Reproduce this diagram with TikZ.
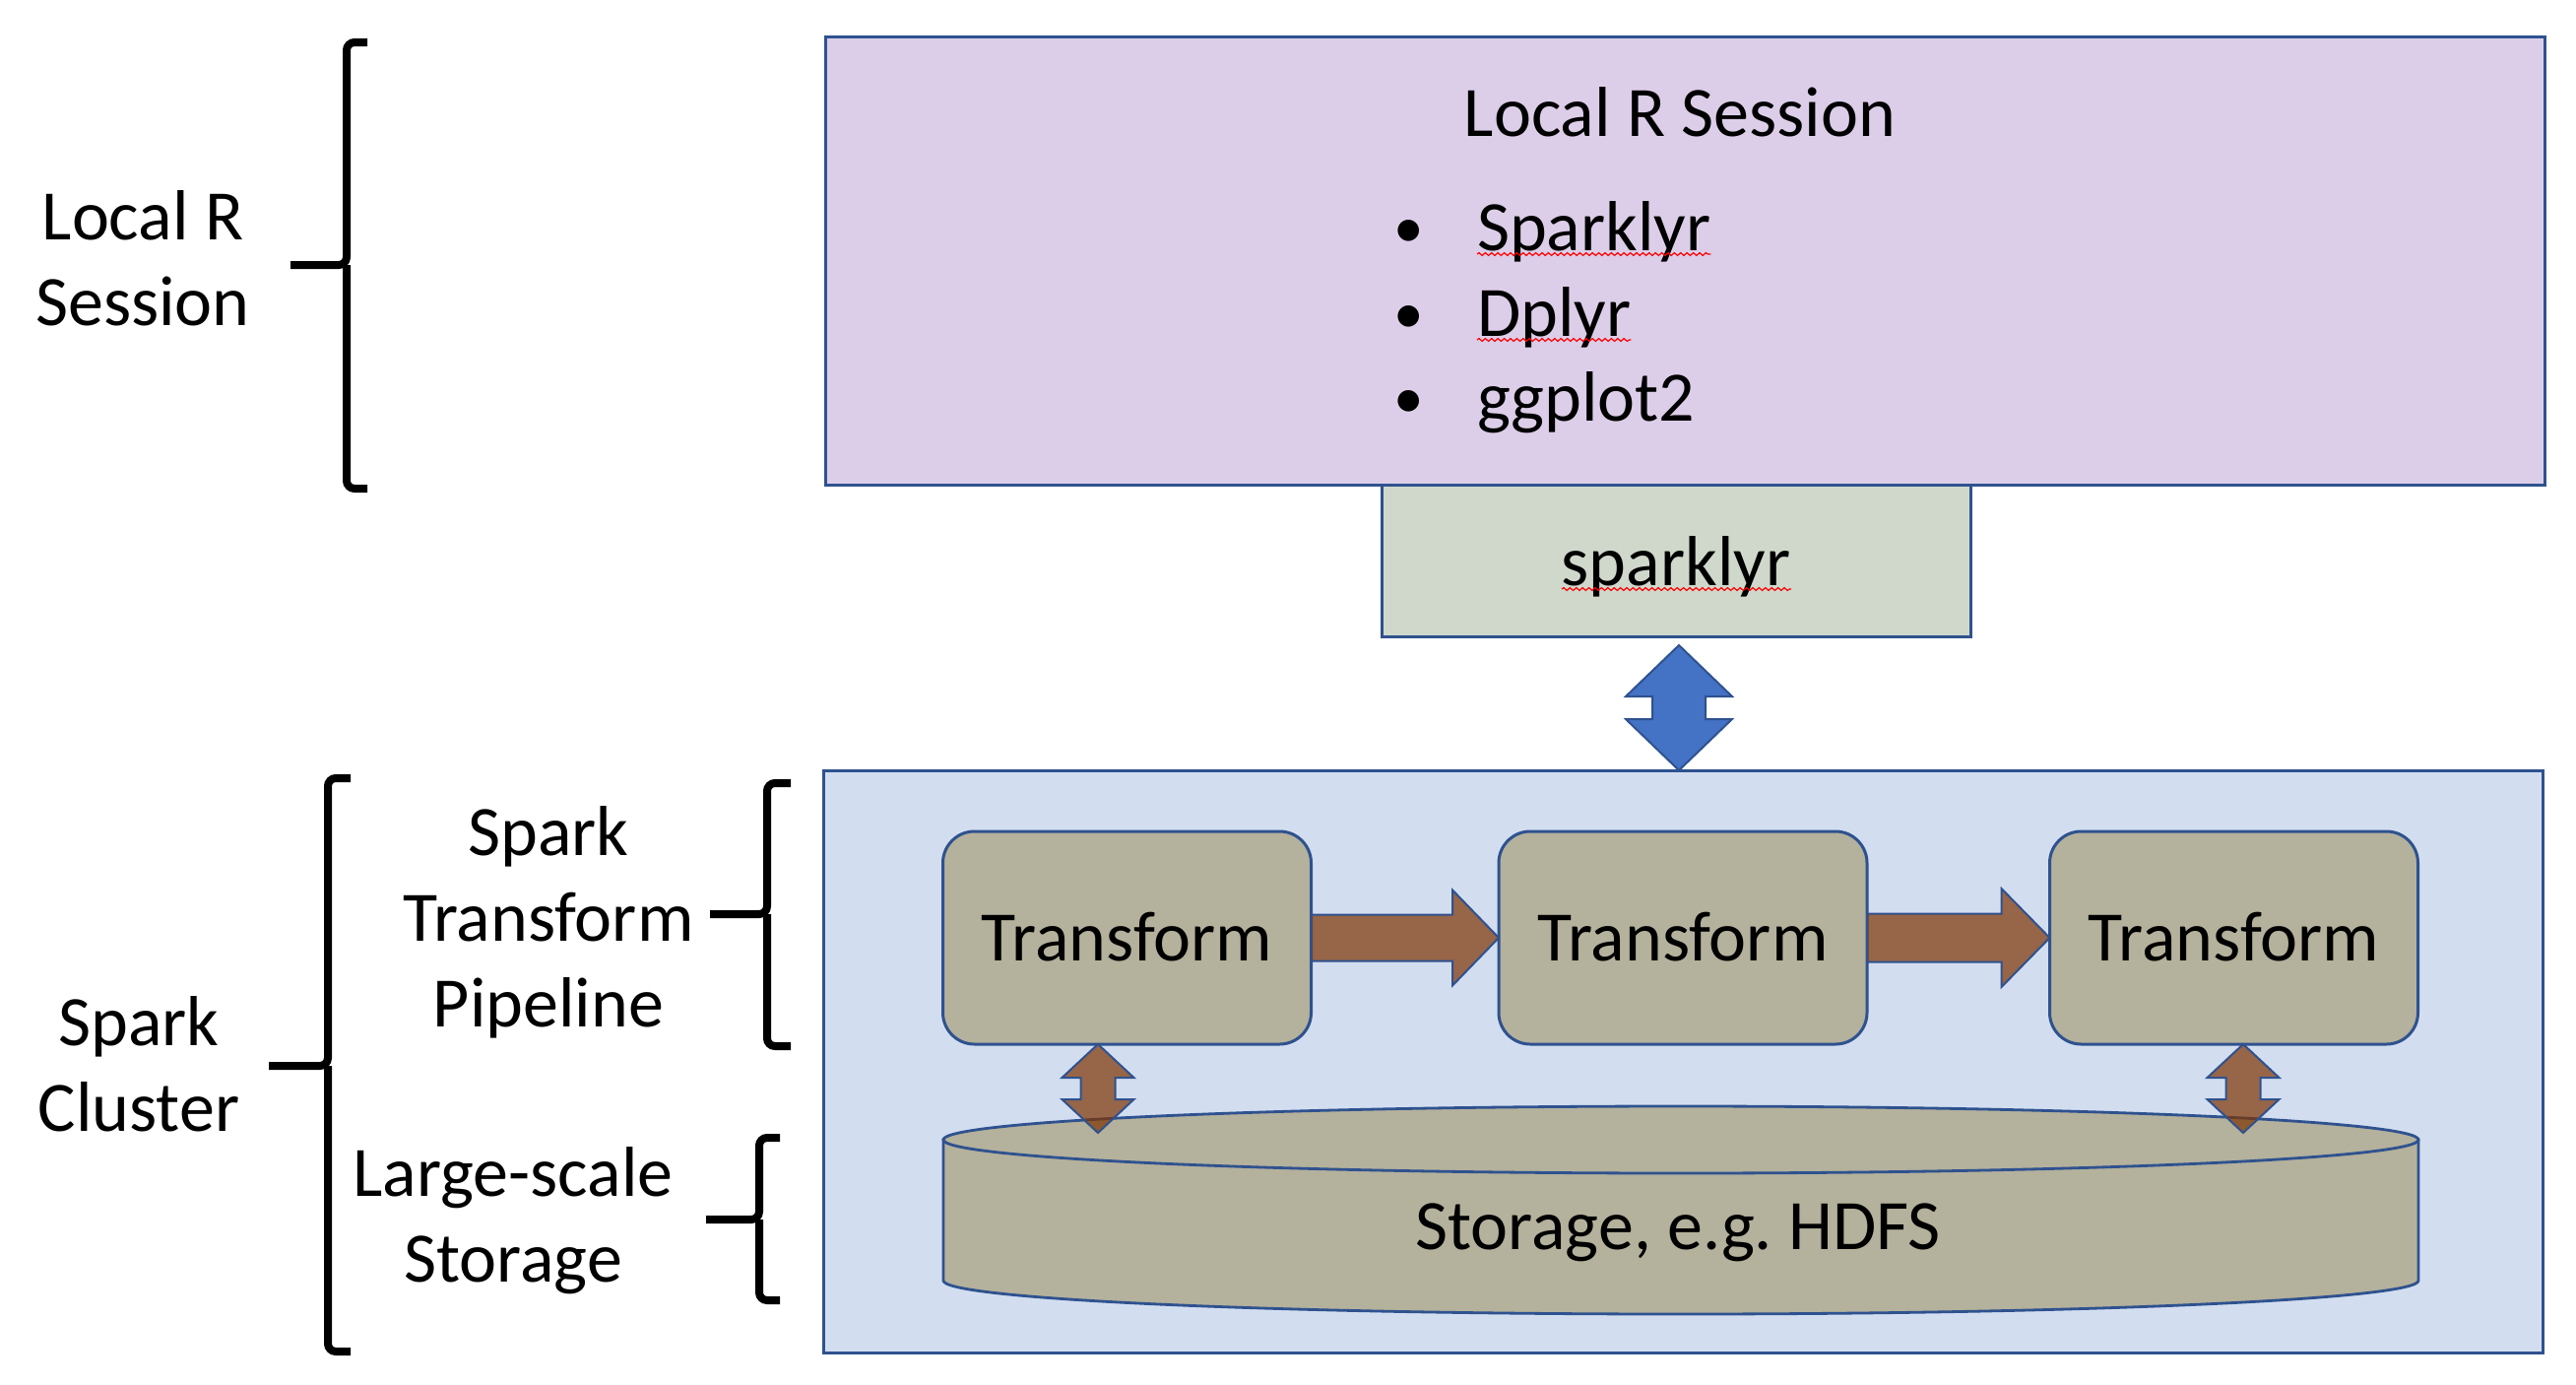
\documentclass[tikz,border=0pt]{standalone}
\usepackage{fontspec}
\usepackage{graphicx}
\setmainfont{Carlito}
\usetikzlibrary{calc,decorations.pathmorphing}
\definecolor{bordc}{RGB}{47,82,143}
\definecolor{lrfill}{RGB}{220,206,232}
\definecolor{spkfill}{RGB}{208,216,204}
\definecolor{clfill}{RGB}{210,222,240}
\definecolor{txfill}{RGB}{180,177,156}
\definecolor{brownarr}{RGB}{127,51,0}
\definecolor{bluearr}{RGB}{68,114,196}
\frenchspacing
% #1 x, #2 top, #3 bottom, #4 serif x, #5 tick x, #6 tick y
\newcommand\mybrace[6]{%
  \draw[brk] (#4,#2) -- (#1,#2) -- (#1,#6) -- (#5,#6);
  \draw[brk] (#1,#6) -- (#1,#3) -- (#4,#3);}
% vertical double block arrow: #1 top, #2 bottom, #3 head half width, #4 shaft half width, #5 head length, #6 style
\newcommand\vdbl[6]{%
  \path[#6] (#1) -- ($(#1)+(#3,#5)$) -- ($(#1)+(#4,#5)$) -- ($(#2)+(#4,-#5)$) -- ($(#2)+(#3,-#5)$) -- (#2)
    -- ($(#2)+(-#3,-#5)$) -- ($(#2)+(-#4,-#5)$) -- ($(#1)+(-#4,#5)$) -- ($(#1)+(-#3,#5)$) -- cycle;}
% horizontal block arrow: #1 from, #2 tip, #3 head length, #4 head half height, #5 shaft half height, #6 style
\newcommand\hfat[6]{%
  \path[#6] ($(#1)+(0,-#5)$) -- ($(#2)+(-#3,-#5)$) -- ($(#2)+(-#3,-#4)$) -- (#2) -- ($(#2)+(-#3,#4)$)
    -- ($(#2)+(-#3,#5)$) -- ($(#1)+(0,#5)$) -- cycle;}
\newcommand\mybullet{\llap{\raisebox{0.6pt}{\scalebox{0.85}{\textbullet}}\hspace{13.6pt}}}
\begin{document}
\begin{tikzpicture}[x=0.25pt,y=-0.25pt,
  every node/.style={inner sep=0pt,outer sep=0pt},
  txt/.style={font=\fontsize{18}{21.75}\selectfont},
  lbl/.style={txt,align=center},
  boxstyle/.style={draw=bordc,line width=0.75pt},
  txbox/.style={boxstyle,fill=txfill,rounded corners=8pt,minimum width=93.5pt,minimum height=54pt,txt,text height=11.6pt,text depth=0pt},
  brk/.style={line width=2pt,rounded corners=2pt},
  fatarrow/.style={draw=bordc,line width=0.5pt,fill=brownarr,fill opacity=0.7},
  bluefat/.style={draw=bordc,line width=0.5pt,fill=bluearr},
  cyl/.style={draw=bordc,line width=0.7pt,fill=txfill},
  spell/.style={draw=red,line width=0.3pt,decorate,decoration={snake,amplitude=0.35pt,segment length=1.6pt}}
]
\useasboundingbox (0,0) rectangle (2616,1405);

% left labels and braces
\node[lbl] (lrlabel) at (145,270) {\strut Local R\\Session\strut};
\mybrace{352}{43}{496}{373}{295}{269}
\node[lbl] (sclabel) at (141,1087.5) {\strut Spark\\Cluster\strut};
\mybrace{333}{790}{1372}{356}{273}{1082}
\node[lbl] (stplabel) at (557,938.5) {\strut Spark\\Transform\\Pipeline\strut};
\mybrace{779}{795}{1062}{803}{721}{928}
\node[lbl] (lslabel) at (521,1240.5) {\strut Large-scale\\Storage\strut};
\mybrace{771}{1155}{1320}{792}{717}{1238}

% local R session box
\node[boxstyle,fill=lrfill,minimum width=436.5pt,minimum height=113.75pt] (lr) at (1711,264.5) {};
\node[txt,anchor=base] (lrtitle) at (1706,138) {Local R Session};
\node[txt,anchor=base west] (i1) at (1500,254) {\mybullet Sparklyr};
\node[txt,anchor=base west] (i2) at (1500,341) {\mybullet Dplyr};
\node[txt,anchor=base west] (i3) at (1500,427) {\mybullet ggplot2};
\draw[spell] ($(i1.base west)+(0,4)$) -- ($(i1.base east)+(0,4)$);
\draw[spell] ($(i2.base west)+(0,4)$) -- ($(i2.base east)+(0,4)$);

% sparklyr box
\node[boxstyle,fill=spkfill,minimum width=149.5pt,minimum height=38.5pt,txt,text height=12.5pt,text depth=0pt] (spk) at (1702,569) {sparklyr};
\draw[spell] ($(spk.center)+(-116,29)$) -- ($(spk.center)+(117,29)$);

% spark cluster
\node[boxstyle,fill=clfill,minimum width=436.5pt,minimum height=147.75pt] (cluster) at (1709,1077.5) {};
\node[txbox] (t1) at (1144.5,952) {Transform};
\node[txbox] (t2) at (1709,952) {Transform};
\node[txbox] (t3) at (2268.5,952) {Transform};

% storage cylinder
\path[cyl] (958,1157) -- (958,1300) arc[start angle=180,end angle=0,x radius=749,y radius=34] -- (2456,1157) -- cycle;
\path[cyl] (1707,1157) ellipse[x radius=749,y radius=34];
\node[txt,anchor=base] (sttext) at (1704,1268) {Storage, e.g. HDFS};

% arrows
\hfat{t1.east}{t2.west}{47}{48.5}{23.5}{fatarrow}
\hfat{t2.east}{t3.west}{49}{50}{24.5}{fatarrow}
\coordinate (a1t) at ($(t1.south)+(-29.5,0)$);
\coordinate (a1b) at ($(t1.south)+(-29.5,90)$);
\coordinate (a3t) at ($(t3.south)+(9.5,0)$);
\coordinate (a3b) at ($(t3.south)+(9.5,90)$);
\vdbl{a1t}{a1b}{36.5}{17.5}{34}{fatarrow}
\vdbl{a3t}{a3b}{36.5}{17.5}{34}{fatarrow}
\coordinate (bat) at ($(spk.south)+(3,9)$);
\coordinate (bab) at ($(cluster.north)+(-4,0)$);
\vdbl{bat}{bab}{54}{27}{52}{bluefat}
\end{tikzpicture}
\end{document}
